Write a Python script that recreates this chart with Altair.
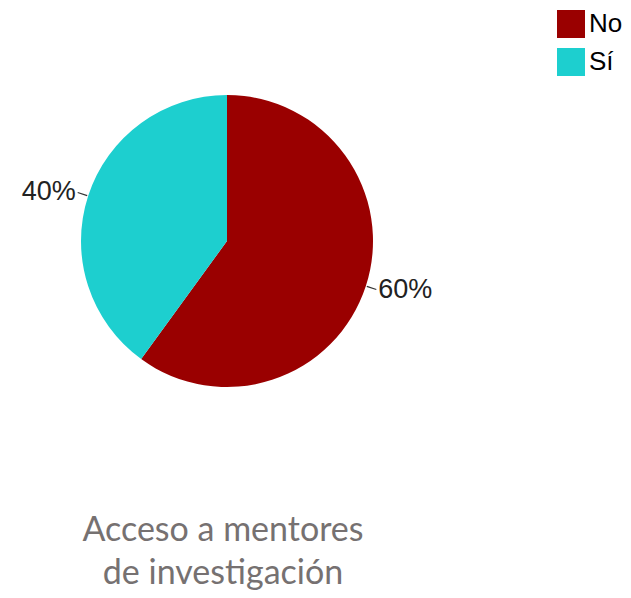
import altair as alt
import pandas as pd

categories = ["No", "Sí"]
values = [60, 40]
labels = ["60%", "40%"]
colors = ["#9a0000", "#1dcfcf"]
title_lines = ["Acceso a mentores", "de investigación"]

df = pd.DataFrame({"cat": categories, "val": values, "lab": labels, "idx": [0, 1]})

CX, CY, R = 219, 233, 146

base = alt.Chart(df)

pie = base.mark_arc(outerRadius=R, stroke=None).encode(
    theta=alt.Theta("val:Q", stack=True),
    color=alt.Color("cat:N", scale=alt.Scale(domain=categories, range=colors),
                    legend=alt.Legend(title=None)),
    order=alt.Order("idx:Q"),
    x=alt.value(CX), y=alt.value(CY),
)

geo = base.transform_joinaggregate(total="sum(val)").transform_window(
    cum="sum(val)", sort=[alt.SortField("idx")]
).transform_calculate(
    mid="((datum.cum - datum.val/2)/datum.total)*2*PI",
).transform_calculate(
    x1=f"{CX} + {R+1}*sin(datum.mid)", y1=f"{CY} - {R+1}*cos(datum.mid)",
    x2=f"{CX} + {R+11}*sin(datum.mid)", y2=f"{CY} - {R+11}*cos(datum.mid)",
    tx=f"{CX} + {R+13}*sin(datum.mid)", ty=f"{CY} - {R+13}*cos(datum.mid)",
)

leaders = geo.mark_rule(color="#333333", strokeWidth=1.2).encode(
    x=alt.X("x1:Q", scale=None, axis=None), y=alt.Y("y1:Q", scale=None, axis=None),
    x2="x2:Q", y2="y2:Q",
)

txt_right = geo.transform_filter("sin(datum.mid) >= 0").mark_text(
    align="left", baseline="middle", fontSize=27, font="Liberation Sans", color="#222222"
).encode(x=alt.X("tx:Q", scale=None), y=alt.Y("ty:Q", scale=None), text="lab:N")

txt_left = geo.transform_filter("sin(datum.mid) < 0").mark_text(
    align="right", baseline="middle", fontSize=27, font="Liberation Sans", color="#222222"
).encode(x=alt.X("tx:Q", scale=None), y=alt.Y("ty:Q", scale=None), text="lab:N")

title_df = pd.DataFrame({"t": ["\n".join(title_lines)]})
title = alt.Chart(title_df).mark_text(
    align="center", baseline="alphabetic", fontSize=34, font="Lato",
    color="#767171", lineBreak="\n", lineHeight=43,
).encode(text="t:N", x=alt.value(215), y=alt.value(533))

chart = alt.layer(pie, leaders, txt_right, txt_left, title).properties(
    width=615, height=582, padding=0, autosize="none"
).configure_view(stroke=None).configure_legend(
    orient="none", legendX=549, legendY=2, symbolType="square", symbolSize=784,
    symbolStrokeWidth=0, labelFontSize=26, labelFont="Liberation Sans",
    labelColor="#000000", rowPadding=10, labelOffset=4, padding=0,
)

chart.save("out.html", embed_options={"renderer": "svg", "actions": False})
